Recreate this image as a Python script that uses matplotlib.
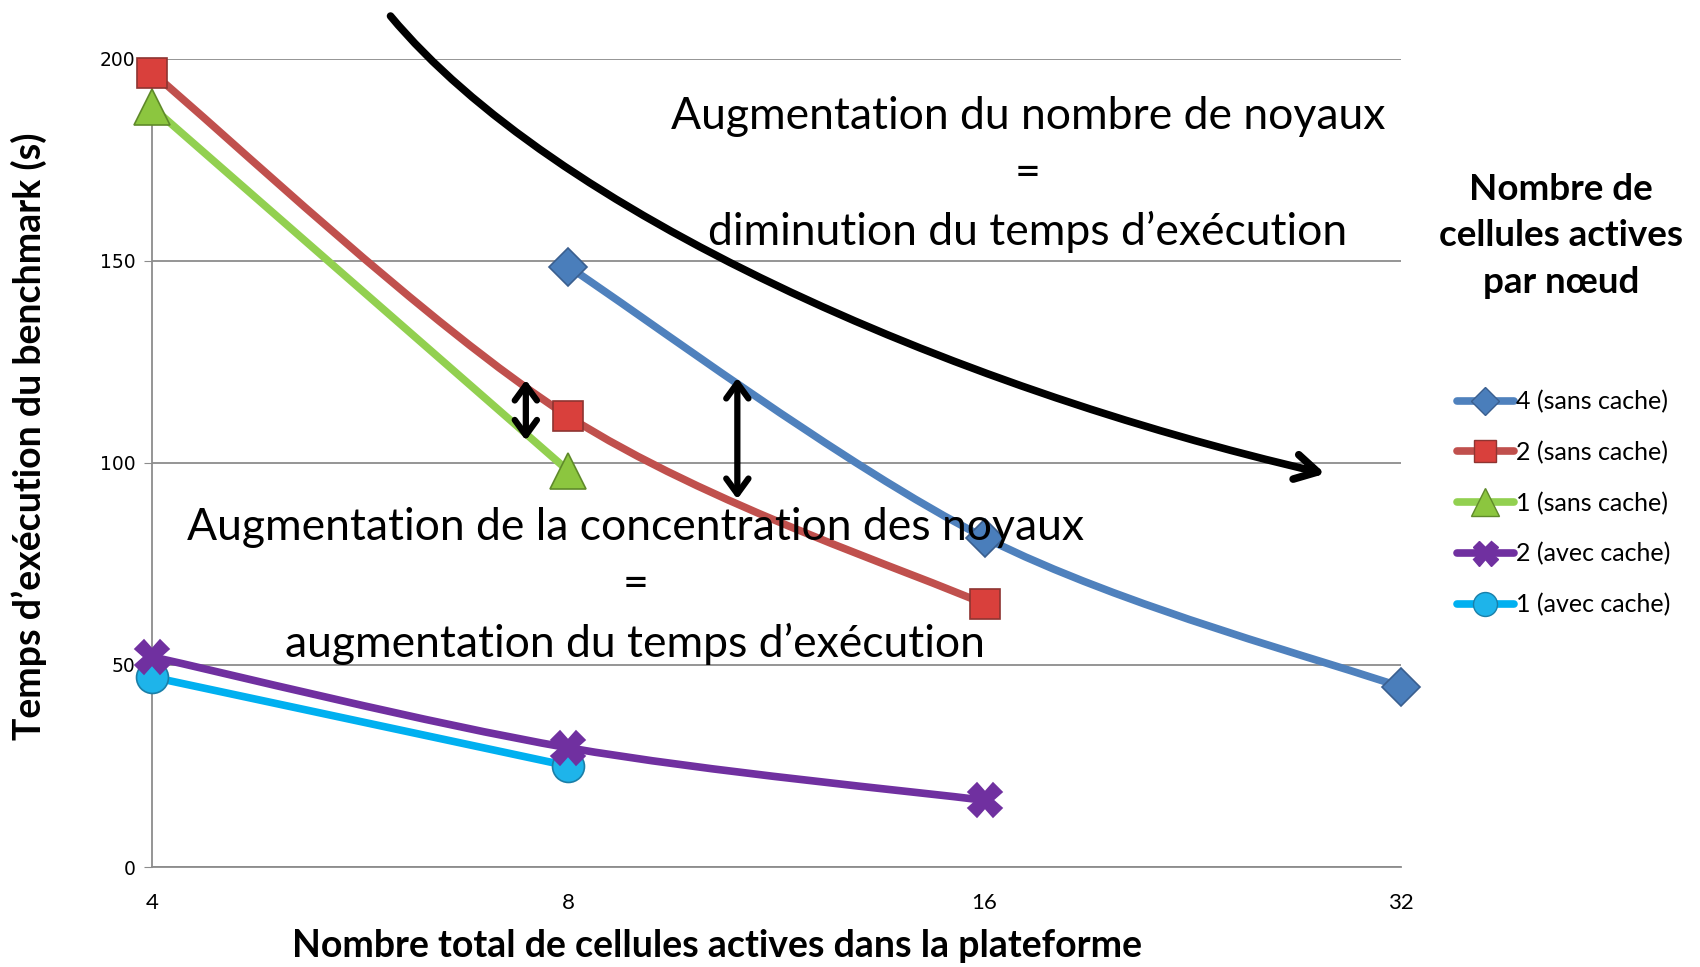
import numpy as np
import matplotlib.pyplot as plt
from matplotlib.path import Path
from matplotlib.patches import PathPatch, FancyArrowPatch
from matplotlib.lines import Line2D

plt.rcParams['font.family'] = ['Lato', 'DejaVu Sans']

cells = [4, 8, 16, 32]
series_names = ['4 (sans cache)', '2 (sans cache)', '1 (sans cache)',
                '2 (avec cache)', '1 (avec cache)']
x_4_sans = [8, 16, 32]
y_4_sans = [148.5, 81.5, 44.5]
x_2_sans = [4, 8, 16]
y_2_sans = [196.5, 111.5, 65]
x_1_sans = [4, 8]
y_1_sans = [188, 98]
x_2_avec = [4, 8, 16]
y_2_avec = [52, 29.5, 16.5]
x_1_avec = [4, 8]
y_1_avec = [47, 25]

# curved annotation arrow: cubic bezier (start, ctrl, ctrl, end) in (log2 pos, seconds)
arrow_x = [2.573, 2.964, 3.906, 4.818]
arrow_y = [210.5, 162.2, 119.0, 97.3]

colors = ['#4F81BD', '#C0504D', '#92D050', '#7030A0', '#00B0F0']
mcolors = ['#4A7EBB', '#D9403C', '#8CC63F', '#7030A0', '#1EB4EA']
medges = ['#3A5F8F', '#8E3431', '#5F8A2A', '#7030A0', '#1A7FA8']
markers = ['D', 's', '^', 'X', 'o']
msizes = [19, 22, 26, 24, 23]


def smooth_path(xs, ys):
    # Excel-like smoothed line: Catmull-Rom as cubic bezier segments
    p = np.column_stack([xs, ys]).astype(float)
    n = len(p)
    verts = [p[0]]
    codes = [Path.MOVETO]
    for i in range(n - 1):
        p0 = p[i - 1] if i > 0 else p[i]
        p3 = p[i + 2] if i + 2 < n else p[i + 1]
        c1 = p[i] + (p[i + 1] - p0) / 6.0
        c2 = p[i + 1] - (p3 - p[i]) / 6.0
        verts += [c1, c2, p[i + 1]]
        codes += [Path.CURVE4] * 3
    return Path(verts, codes)


fig = plt.figure(figsize=(17, 9.67), dpi=100)
ax = fig.add_axes([0.0894, 0.1034, 0.7347, 0.8361])

data = [(x_4_sans, y_4_sans), (x_2_sans, y_2_sans), (x_1_sans, y_1_sans),
        (x_2_avec, y_2_avec), (x_1_avec, y_1_avec)]
order = [2, 1, 0, 4, 3]
for k in order:
    xs, ys = data[k]
    lx = np.log2(xs)
    ax.add_patch(PathPatch(smooth_path(lx, ys), facecolor='none',
                           edgecolor=colors[k], lw=5.5, capstyle='round',
                           joinstyle='round', zorder=3))
    ax.plot(lx, ys, linestyle='none', marker=markers[k], markersize=msizes[k],
            markerfacecolor=mcolors[k], markeredgecolor=medges[k],
            markeredgewidth=1.2, zorder=4, clip_on=False)

ax.set_xlim(2, 5)
ax.set_ylim(0, 200)
ax.set_xticks(np.log2(cells))
ax.set_xticklabels([str(c) for c in cells])
ax.set_yticks([0, 50, 100, 150, 200])
ax.yaxis.grid(True, color='#8C8C8C', lw=1.3)
ax.set_axisbelow(True)
for s in ['top', 'right']:
    ax.spines[s].set_visible(False)
for s in ['left', 'bottom']:
    ax.spines[s].set_color('#8C8C8C')
    ax.spines[s].set_linewidth(1.3)
ax.tick_params(axis='y', length=6, color='#8C8C8C', pad=6)
ax.tick_params(axis='x', length=0, labelsize=16, pad=19)
for t in ax.get_yticklabels():
    t.set_fontfamily('DejaVu Sans')
    t.set_fontsize(13.5)

ax.set_xlabel('Nombre total de cellules actives dans la plateforme',
              fontsize=27, fontweight='bold', va='center')
ax.set_ylabel('Temps d\u2019ex\u00e9cution du benchmark (s)',
              fontsize=27, fontweight='bold', va='center')
ax.xaxis.set_label_coords(0.452, -0.098)
ax.yaxis.set_label_coords(-0.0985, 0.533)

# big curved arrow
arrow_path = Path(np.column_stack([arrow_x, arrow_y]),
                  [Path.MOVETO, Path.CURVE4, Path.CURVE4, Path.CURVE4])
ax.add_patch(FancyArrowPatch(path=arrow_path,
                             arrowstyle='->,head_length=16,head_width=9',
                             mutation_scale=1, color='black', lw=5.5,
                             clip_on=False, zorder=5))
# double arrows
for xa, ya, yb in [(2.898, 120.5, 105.5), (3.406, 121, 91)]:
    ax.add_patch(FancyArrowPatch((xa, ya), (xa, yb),
                                 arrowstyle='<->,head_length=11,head_width=8',
                                 mutation_scale=1, shrinkA=0, shrinkB=0,
                                 color='black', lw=4.5, zorder=5))

ax.text(4.104, 171.3,
        'Augmentation du nombre de noyaux\n=\ndiminution du temps d\u2019ex\u00e9cution',
        ha='center', va='center', fontsize=32, linespacing=1.5, zorder=6)
ax.text(3.161, 69.6,
        'Augmentation de la concentration des noyaux\n=\naugmentation du temps d\u2019ex\u00e9cution',
        ha='center', va='center', fontsize=32, linespacing=1.5, zorder=6)

handles = [Line2D([0], [0], color=colors[k], lw=5.5, marker=markers[k],
                  markersize=msizes[k] * 0.75, markerfacecolor=mcolors[k],
                  markeredgecolor=medges[k], solid_capstyle='round')
           for k in range(5)]
fig.text(1561 / 1700, 1 - 236 / 967,
         'Nombre de\ncellules actives\npar n\u0153ud', ha='center', va='center',
         fontsize=26.5, fontweight='bold', linespacing=1.5)
leg = fig.legend(handles, series_names, loc='upper left',
                 bbox_to_anchor=(0.844, 0.620), frameon=False, fontsize=18,
                 handlelength=2.25, handletextpad=0.1, labelspacing=1.1)

fig.savefig('out.png', dpi=100)
